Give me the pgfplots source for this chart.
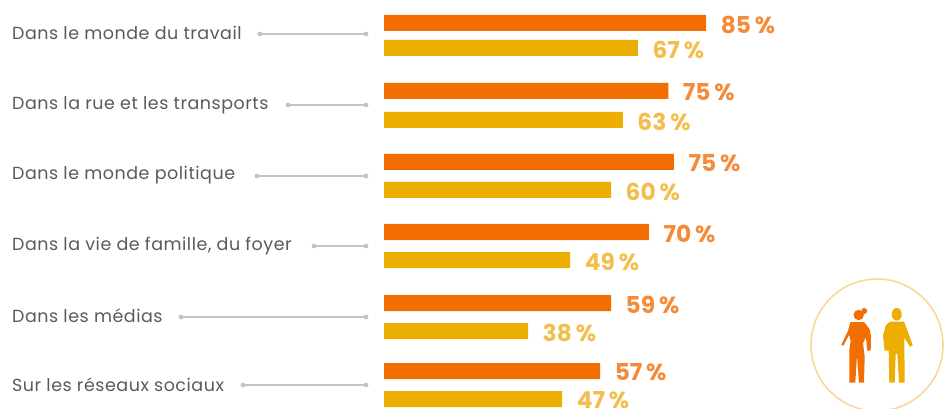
\documentclass[border=0pt]{standalone}
\usepackage{pgfplots}
\pgfplotsset{compat=1.18}
\usepackage{fontspec}
\setmainfont{Poppins}[LetterSpace=3]
\newfontfamily\valuefont{Poppins}
\definecolor{barA}{HTML}{F26E00}
\definecolor{barB}{HTML}{ECAE00}
\definecolor{valA}{HTML}{F58B3A}
\definecolor{valB}{HTML}{F3BE4E}
\definecolor{leader}{HTML}{C4C4C4}
\definecolor{labeltxt}{HTML}{5A5A5A}
\definecolor{ring}{HTML}{F8D898}
\begin{document}
\begin{tikzpicture}[x=1pt,y=1pt]
\clip (0,0) rectangle (946,409);
% 1 unit = 1 px of the reference, y from the top: labels, leaders, icon
\begin{axis}[
  at={(0,0)},anchor=south west,
  scale only axis,width=946pt,height=409pt,
  xmin=0,xmax=946,ymin=0,ymax=409,y dir=reverse,
  hide axis,clip=false
]
\addplot[leader,line width=1.1pt] coordinates {(260,34) (366,34)};
\addplot[leader,line width=1.1pt] coordinates {(288,105) (366,105)};
\addplot[leader,line width=1.1pt] coordinates {(257,176) (366,176)};
\addplot[leader,line width=1.1pt] coordinates {(314,246) (366,246)};
\addplot[leader,line width=1.1pt] coordinates {(181,317) (366,317)};
\addplot[leader,line width=1.1pt] coordinates {(243,385) (366,385)};
\addplot[only marks,mark=*,mark size=2.2pt,leader] coordinates {
  (260,34) (366,34) (288,105) (366,105) (257,176) (366,176)
  (314,246) (366,246) (181,317) (366,317) (243,385) (366,385)};
\foreach \yy/\txt in {33/Dans le monde du travail,105/Dans la rue et les transports,
    175/Dans le monde politique,246/{Dans la vie de famille, du foyer},
    316/Dans les médias,385/Sur les réseaux sociaux}{
  \edef\temp{\noexpand\node[anchor=west,inner sep=0pt,text=labeltxt,font=\noexpand\fontsize{17.5}{21}\noexpand\selectfont]
    at (axis cs:12,\yy) {\unexpanded\expandafter{\txt}};}
  \temp
}
% ring and figures
\draw[ring,line width=1.6pt] (axis cs:877,345) circle[radius=66pt];
\fill[barA] (axis cs:858.7,315) circle[radius=5.2pt];
\fill[barA] (axis cs:864.3,311) circle[radius=3pt];
\fill[barA] (axis cs:850.5,322) -- (axis cs:864,322) -- (axis cs:869.5,329) -- (axis cs:871,336.5)
  -- (axis cs:870.7,350.7) -- (axis cs:867.3,350.7) -- (axis cs:866,337.3) -- (axis cs:863,343)
  -- (axis cs:864.7,356.7) -- (axis cs:864,382.7) -- (axis cs:859,382.7) -- (axis cs:857,355)
  -- (axis cs:855.3,382.7) -- (axis cs:849.3,382.7) -- (axis cs:849.3,350) -- (axis cs:850.7,341)
  -- (axis cs:849,335) -- (axis cs:843.3,345.7) -- (axis cs:841.3,344.7) -- (axis cs:847.7,331.7) -- cycle;
\fill[barB] (axis cs:896.7,314.3) ellipse[x radius=5pt,y radius=6.3pt];
\fill[barB] (axis cs:890,321.7) -- (axis cs:904,321.7) -- (axis cs:906,326.7) -- (axis cs:912.7,345)
  -- (axis cs:910,347) -- (axis cs:904.3,337.3) -- (axis cs:904.7,382.7) -- (axis cs:899,382.7)
  -- (axis cs:897.3,354) -- (axis cs:895.7,354) -- (axis cs:894.7,382.7) -- (axis cs:889.3,382.7)
  -- (axis cs:888.7,350.7) -- (axis cs:884.5,350.7) -- (axis cs:883,335) -- (axis cs:886,325) -- cycle;
\end{axis}
% bars: x in percent, 3.79 px per percent, zero at px 384
\begin{axis}[
  at={(0,0)},anchor=south west,
  scale only axis,width=946pt,height=409pt,
  xmin=-101.32,xmax=148.28,ymin=0,ymax=409,y dir=reverse,
  hide axis,clip=false,
  xbar,bar width=16pt,bar shift=0pt,
  point meta=explicit symbolic,
  nodes near coords={\pgfplotspointmeta\,\%},
  nodes near coords style={anchor=west,inner sep=0pt,xshift=14.5pt,yshift=-1.5pt,font=\valuefont\bfseries\fontsize{23.3}{27}\selectfont}
]
\addplot[draw=none,fill=barA,nodes near coords style={text=valA}] coordinates {
  (85,23) [85] (75,91) [75] (76.5,162) [75] (69.9,232) [70] (59.9,303) [59] (57,371) [57]};
\addplot[draw=none,fill=barB,nodes near coords style={text=valB}] coordinates {
  (67,48) [67] (63,120) [63] (59.9,190) [60] (49.1,260) [49] (38,331) [38] (47,399) [47]};
\end{axis}
\end{tikzpicture}
\end{document}
